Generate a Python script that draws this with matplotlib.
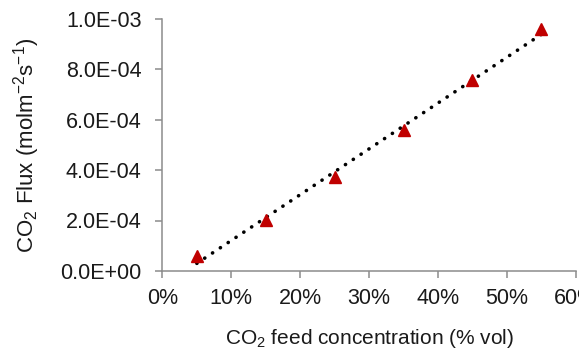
import numpy as np
import matplotlib.pyplot as plt

plt.rcParams['font.family'] = ['Liberation Sans', 'DejaVu Sans']
plt.rcParams['mathtext.default'] = 'regular'

#------- data -------
feed_conc = [0.05, 0.15, 0.25, 0.35, 0.45, 0.55]
co2_flux = [5.8e-5, 2.01e-4, 3.72e-4, 5.59e-4, 7.56e-4, 9.6e-4]
x_ticks = [0, 0.1, 0.2, 0.3, 0.4, 0.5, 0.6]
x_labels = ['0%', '10%', '20%', '30%', '40%', '50%', '60%']
y_ticks = [0, 2e-4, 4e-4, 6e-4, 8e-4, 1e-3]
y_labels = ['0.0E+00', '2.0E-04', '4.0E-04', '6.0E-04', '8.0E-04', '1.0E-03']

fig = plt.figure(figsize=(5.79, 3.5), dpi=100)
ax = fig.add_axes([0.2805, 0.226, 0.714, 0.72])

# linear trendline (dotted)
k, b = np.polyfit(feed_conc, co2_flux, 1)
xs = np.array([feed_conc[0], feed_conc[-1]])
ax.plot(xs, k * xs + b, color='black', lw=2.6,
        linestyle=(0, (0.05, 2.55)), dash_capstyle='round', zorder=2)

ax.plot(feed_conc, co2_flux, linestyle='none', marker='^', ms=9,
        color='#C00000', zorder=3)

ax.set_xlim(0, 0.6)
ax.set_ylim(0, 1e-3)
ax.set_xticks(x_ticks)
ax.set_xticklabels(x_labels)
ax.set_yticks(y_ticks)
ax.set_yticklabels(y_labels)

for s in ['top', 'right']:
    ax.spines[s].set_visible(False)
for s in ['left', 'bottom']:
    ax.spines[s].set_color('#8c8c8c')
    ax.spines[s].set_linewidth(1.1)
ax.tick_params(direction='out', length=5, width=1.1, color='#8c8c8c',
               labelsize=15.5, labelcolor='#1a1a1a')
ax.tick_params(axis='x', pad=7)
ax.tick_params(axis='y', pad=10)

ax.set_xlabel(r'CO$_2$ feed concentration (% vol)', fontsize=15,
              color='#1a1a1a', labelpad=13)
ax.set_ylabel(r'CO$_2$ Flux (molm$^{-2}$s$^{-1}$)', fontsize=16,
              color='#1a1a1a', labelpad=13)

fig.savefig('out.png', dpi=100)
